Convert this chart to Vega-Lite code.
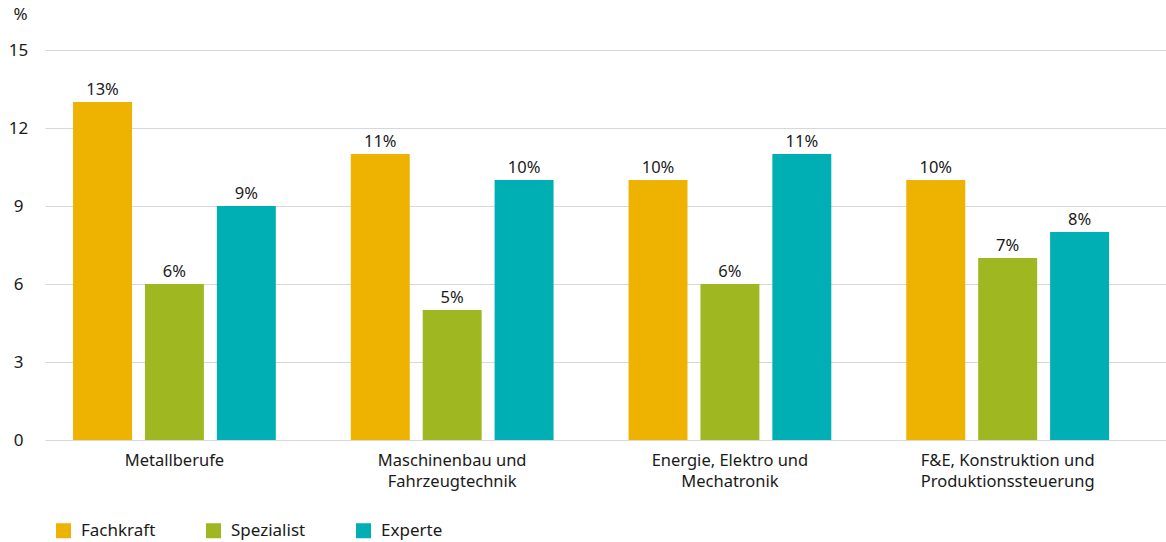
{
  "$schema": "https://vega.github.io/schema/vega-lite/v6.json",
  "width": 1121,
  "height": 390,
  "autosize": {"type": "none"},
  "padding": {"left": 45, "top": 50, "right": 0, "bottom": 102},
  "background": "white",
  "config": {
    "view": {"stroke": null},
    "font": "Noto Sans",
    "axis": {"labelFont": "Noto Sans", "titleFont": "Noto Sans"},
    "legend": {"labelFont": "Noto Sans"}
  },
  "data": {
    "values": [
      {"Beruf": "Metallberufe", "Niveau": "Fachkraft", "Wert": 13},
      {"Beruf": "Metallberufe", "Niveau": "Spezialist", "Wert": 6},
      {"Beruf": "Metallberufe", "Niveau": "Experte", "Wert": 9},
      {"Beruf": "Maschinenbau und Fahrzeugtechnik", "Niveau": "Fachkraft", "Wert": 11},
      {"Beruf": "Maschinenbau und Fahrzeugtechnik", "Niveau": "Spezialist", "Wert": 5},
      {"Beruf": "Maschinenbau und Fahrzeugtechnik", "Niveau": "Experte", "Wert": 10},
      {"Beruf": "Energie, Elektro und Mechatronik", "Niveau": "Fachkraft", "Wert": 10},
      {"Beruf": "Energie, Elektro und Mechatronik", "Niveau": "Spezialist", "Wert": 6},
      {"Beruf": "Energie, Elektro und Mechatronik", "Niveau": "Experte", "Wert": 11},
      {"Beruf": "F&E, Konstruktion und Produktionssteuerung", "Niveau": "Fachkraft", "Wert": 10},
      {"Beruf": "F&E, Konstruktion und Produktionssteuerung", "Niveau": "Spezialist", "Wert": 7},
      {"Beruf": "F&E, Konstruktion und Produktionssteuerung", "Niveau": "Experte", "Wert": 8}
    ]
  },
  "encoding": {
    "x": {
      "field": "Beruf",
      "type": "nominal",
      "sort": null,
      "scale": {"paddingInner": 0.27, "paddingOuter": 0.153, "align": 0.33},
      "axis": {
        "title": null,
        "labelAngle": 0,
        "domain": false,
        "ticks": false,
        "labelPadding": 12,
        "labelFontSize": 16.5,
        "labelColor": "#1a1a1a",
        "labelLineHeight": 21,
        "labelExpr": "indexof(datum.value, ' und ') > 0 ? [slice(datum.value, 0, indexof(datum.value, ' und ') + 4), slice(datum.value, indexof(datum.value, ' und ') + 5)] : datum.value"
      }
    },
    "xOffset": {
      "field": "Niveau",
      "type": "nominal",
      "sort": ["Fachkraft", "Spezialist", "Experte"],
      "scale": {"paddingInner": 0.18, "paddingOuter": 0}
    },
    "y": {
      "field": "Wert",
      "type": "quantitative",
      "scale": {"domain": [0, 15]},
      "axis": {
        "values": [0, 3, 6, 9, 12, 15],
        "title": "%",
        "titleAngle": 0,
        "titleX": -25,
        "titleY": -27,
        "titleAlign": "center",
        "titleFontSize": 17,
        "titleFontWeight": "normal",
        "titleColor": "#1a1a1a",
        "domain": false,
        "ticks": false,
        "labelAlign": "center",
        "labelPadding": 27,
        "labelFontSize": 17,
        "labelColor": "#1a1a1a",
        "gridColor": "#d3d8dc",
        "gridWidth": 1.2
      }
    }
  },
  "layer": [
    {
      "mark": {"type": "bar"},
      "encoding": {
        "color": {
          "field": "Niveau",
          "type": "nominal",
          "sort": ["Fachkraft", "Spezialist", "Experte"],
          "scale": {"domain": ["Fachkraft", "Spezialist", "Experte"], "range": ["#eeb300", "#9fb720", "#00afb3"]},
          "legend": {
            "title": null,
            "orient": "none",
            "direction": "horizontal",
            "legendX": 10,
            "legendY": 472,
            "symbolType": "square",
            "symbolSize": 225,
            "symbolStrokeWidth": 0,
            "symbolOpacity": 1,
            "labelFontSize": 17,
            "labelColor": "#1a1a1a",
            "labelOffset": 9,
            "columnPadding": 49
          }
        }
      }
    },
    {
      "transform": [{"calculate": "datum.Wert + '%'", "as": "Etikett"}],
      "mark": {"type": "text", "baseline": "alphabetic", "dy": -7, "fontSize": 16.5, "color": "#1a1a1a"},
      "encoding": {
        "text": {"field": "Etikett", "type": "nominal"}
      }
    }
  ]
}
